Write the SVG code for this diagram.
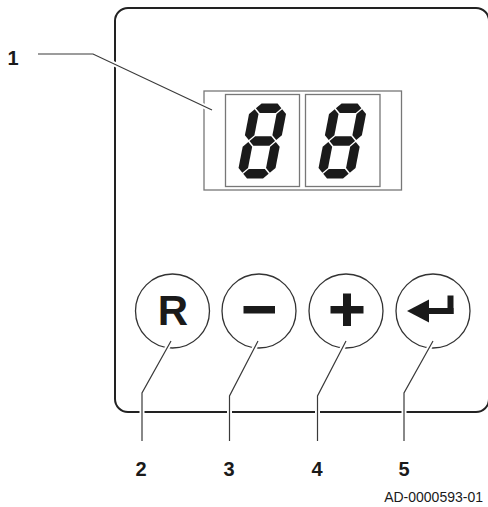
<svg xmlns="http://www.w3.org/2000/svg" width="488" height="507" viewBox="0 0 488 507">
  <style>
    .panel { fill: #ffffff; stroke: #222222; stroke-width: 2; }
    .disp { fill: none; stroke: #777777; stroke-width: 1.3; }
    .btn { fill: #ffffff; stroke: #333333; stroke-width: 1.3; }
    .sym { fill: #1a1a1a; }
    .halo { fill: none; stroke: #ffffff; stroke-width: 5; }
    .lead { fill: none; stroke: #3a3a3a; stroke-width: 1.2; }
    .num { font-family: "Liberation Sans", Arial, sans-serif; font-weight: bold; font-size: 20px; fill: #1a1a1a; }
    .code { font-family: "Liberation Sans", Arial, sans-serif; font-size: 14px; fill: #1a1a1a; }
  </style>
  <defs>
    <g id="digit8">
      <polygon class="sym" points="5.75,4.75 10.5,0 26.5,0 31.25,4.75 26.5,9.5 10.5,9.5"/>
      <polygon class="sym" points="5.75,37.5 10.5,32.75 26.5,32.75 31.25,37.5 26.5,42.25 10.5,42.25"/>
      <polygon class="sym" points="5.75,70.25 10.5,65.5 26.5,65.5 31.25,70.25 26.5,75 10.5,75"/>
      <polygon class="sym" points="4.75,5.75 9.5,10.5 9.5,31.75 4.75,36.5 0,31.75 0,10.5"/>
      <polygon class="sym" points="32.25,5.75 37,10.5 37,31.75 32.25,36.5 27.5,31.75 27.5,10.5"/>
      <polygon class="sym" points="4.75,38.5 9.5,43.25 9.5,64.5 4.75,69.25 0,64.5 0,43.25"/>
      <polygon class="sym" points="32.25,38.5 37,43.25 37,64.5 32.25,69.25 27.5,64.5 27.5,43.25"/>
    </g>
  </defs>

  <g id="panel">
    <rect class="panel" x="115" y="8" width="374" height="404" rx="13" ry="13"/>
  </g>

  <g id="display">
    <rect class="disp" x="204" y="91" width="197.5" height="99"/>
    <rect class="disp" x="225.5" y="94.5" width="74" height="92"/>
    <rect class="disp" x="305.5" y="94.5" width="74.5" height="92"/>
    <use href="#digit8" transform="translate(236.5,178.5) skewX(-11) translate(0,-75)"/>
    <use href="#digit8" transform="translate(316.5,178.5) skewX(-11) translate(0,-75)"/>
  </g>

  <g id="btn-reset">
    <circle class="btn" cx="172.5" cy="311" r="37"/>
    <text x="173" y="324.5" text-anchor="middle" style="font-family: 'Liberation Sans', Arial, sans-serif; font-weight: bold; font-size: 42px; fill: #1a1a1a;">R</text>
  </g>
  <g id="btn-minus">
    <circle class="btn" cx="259" cy="311" r="37"/>
    <rect class="sym" x="243.5" y="306" width="31.5" height="7.5"/>
  </g>
  <g id="btn-plus">
    <circle class="btn" cx="346" cy="311" r="37"/>
    <rect class="sym" x="330.5" y="306" width="33" height="7.5"/>
    <rect class="sym" x="343" y="293.5" width="8" height="32.5"/>
  </g>
  <g id="btn-enter">
    <circle class="btn" cx="433" cy="311" r="37"/>
    <polygon class="sym" points="407,311 429,299.5 429,322.5"/>
    <rect class="sym" x="426" y="308" width="27.5" height="6"/>
    <rect class="sym" x="447.5" y="295.5" width="6" height="18.5"/>
  </g>

  <g id="connectors">
    <polyline class="halo" points="38,54 93,54 212,110"/>
    <polyline class="halo" points="171,341 142,393 142,441"/>
    <polyline class="halo" points="258,341 229.5,396 229.5,441"/>
    <polyline class="halo" points="346,341 317.5,396 317.5,441"/>
    <polyline class="halo" points="433,341 404,393 404,441"/>
    <polyline class="lead" points="38,54 93,54 212,110"/>
    <polyline class="lead" points="171,341 142,393 142,441"/>
    <polyline class="lead" points="258,341 229.5,396 229.5,441"/>
    <polyline class="lead" points="346,341 317.5,396 317.5,441"/>
    <polyline class="lead" points="433,341 404,393 404,441"/>
  </g>

  <g id="labels">
    <text class="num" x="13" y="65" text-anchor="middle">1</text>
    <text class="num" x="141" y="476" text-anchor="middle">2</text>
    <text class="num" x="229" y="476" text-anchor="middle">3</text>
    <text class="num" x="317" y="476" text-anchor="middle">4</text>
    <text class="num" x="404" y="476" text-anchor="middle">5</text>
    <text class="code" x="483" y="501.5" text-anchor="end">AD-0000593-01</text>
  </g>
</svg>
